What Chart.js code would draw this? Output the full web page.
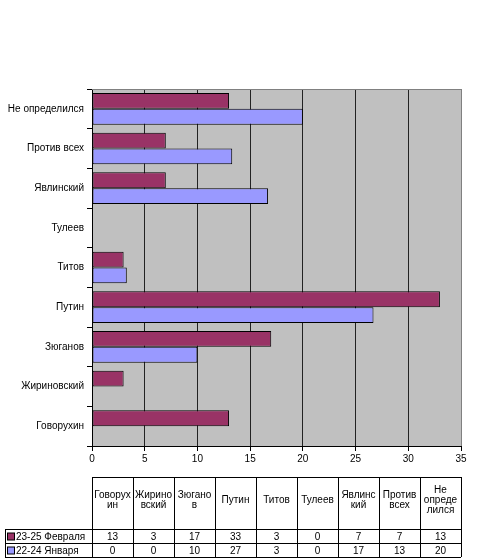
<!DOCTYPE html>
<html>
<head>
<meta charset="utf-8">
<script src="https://cdn.jsdelivr.net/npm/chart.js@4/dist/chart.umd.min.js"></script>
<style>
  body { margin: 0; background: #fff; }
</style>
</head>
<body>
<canvas id="graph" width="500" height="560"></canvas>
<script>
// кандидаты (снизу вверх на графике, слева направо в таблице)
const candidats = ['Говорухин', 'Жириновский', 'Зюганов', 'Путин', 'Титов', 'Тулеев', 'Явлинский', 'Против всех', 'Не определился'];
// заголовки столбцов таблицы, как они перенесены в оригинале
const enTetes = [['Говорух', 'ин'], ['Жирино', 'вский'], ['Зюгано', 'в'], ['Путин'], ['Титов'], ['Тулеев'], ['Явлинс', 'кий'], ['Против', 'всех'], ['Не', 'опреде', 'лился']];

const serieFevrier = [13, 3, 17, 33, 3, 0, 7, 7, 13];
const serieJanvier = [0, 0, 10, 26.7, 3.3, 0, 16.7, 13.3, 20];
const nomsSeries = ['23-25 Февраля', '22-24 Января'];
const couleurs = ['#993366', '#9999FF'];
const ticksX = [0, 5, 10, 15, 20, 25, 30, 35];

Chart.defaults.font.family = 'Arial, "Liberation Sans", sans-serif';
Chart.defaults.font.size = 10;
Chart.defaults.color = '#000';

// fond gris + bord gris en haut / à droite
const fondGris = {
  id: 'fondGris',
  beforeDraw(chart) {
    const a = chart.chartArea, c = chart.ctx;
    c.save();
    c.fillStyle = '#C0C0C0';
    c.fillRect(a.left, a.top, a.right - a.left, a.bottom - a.top);
    c.restore();
  },
  afterDatasetsDraw(chart) {
    const a = chart.chartArea, c = chart.ctx;
    c.save();
    c.strokeStyle = '#808080';
    c.lineWidth = 1;
    c.beginPath();
    c.moveTo(a.left, a.top + 0.5);
    c.lineTo(a.right + 0.5, a.top + 0.5);
    c.lineTo(a.right + 0.5, a.bottom);
    c.stroke();
    c.restore();
  }
};

// table de données sous le graphique
const tableDonnees = {
  id: 'tableDonnees',
  afterDraw(chart) {
    const a = chart.chartArea, c = chart.ctx;
    const n = candidats.length;
    const w = (a.right - a.left) / n;
    const xg = 5;
    const y0 = 477, y1 = 529, y2 = 543, y3 = 557;
    const rows = [serieFevrier, serieJanvier];
    c.save();
    c.strokeStyle = '#000';
    c.lineWidth = 1;
    c.beginPath();
    // lignes horizontales
    c.moveTo(a.left, y0 + 0.5); c.lineTo(a.right, y0 + 0.5);
    [y1, y2, y3].forEach(y => { c.moveTo(xg, y + 0.5); c.lineTo(a.right, y + 0.5); });
    // lignes verticales
    c.moveTo(xg + 0.5, y1); c.lineTo(xg + 0.5, y3);
    for (let i = 0; i <= n; i++) {
      const x = Math.round(a.left + i * w) + 0.5;
      c.moveTo(x, y0); c.lineTo(x, y3);
    }
    c.stroke();

    c.font = '10px Arial, "Liberation Sans", sans-serif';
    c.fillStyle = '#000';
    c.textAlign = 'center';
    c.textBaseline = 'middle';
    enTetes.forEach((lignes, i) => {
      const cx = a.left + i * w + w / 2;
      const h = 10;
      const start = 500 - (lignes.length - 1) * h / 2;
      lignes.forEach((t, j) => c.fillText(t, cx, start + j * h));
    });
    rows.forEach((serie, r) => {
      const cy = (r === 0 ? (y1 + y2) / 2 : (y2 + y3) / 2) + 1;
      serie.forEach((v, i) => {
        c.fillText(String(Math.round(v)), a.left + i * w + w / 2, cy);
      });
      // légende
      c.fillStyle = couleurs[r];
      c.fillRect(7.5, cy - 4, 7, 7);
      c.strokeRect(7.5, cy - 4, 7, 7);
      c.fillStyle = '#000';
      c.textAlign = 'left';
      c.fillText(nomsSeries[r], 16, cy);
      c.textAlign = 'center';
    });
    c.restore();
  }
};

new Chart(document.getElementById('graph').getContext('2d'), {
  type: 'bar',
  data: {
    labels: candidats,
    datasets: [
      {
        label: nomsSeries[0],
        data: serieFevrier,
        backgroundColor: couleurs[0],
        borderColor: '#000',
        borderWidth: 1,
        borderSkipped: false,
        categoryPercentage: 0.8,
        barPercentage: 1
      },
      {
        label: nomsSeries[1],
        data: serieJanvier,
        backgroundColor: couleurs[1],
        borderColor: '#000',
        borderWidth: 1,
        borderSkipped: false,
        categoryPercentage: 0.8,
        barPercentage: 1
      }
    ]
  },
  options: {
    indexAxis: 'y',
    responsive: false,
    animation: false,
    layout: { padding: { top: 89, right: 39, bottom: 90, left: 0 } },
    plugins: {
      legend: { display: false },
      tooltip: { enabled: false }
    },
    scales: {
      x: {
        min: 0,
        max: 35,
        afterBuildTicks: s => { s.ticks = ticksX.map(v => ({ value: v })); },
        afterFit: s => { s.height = 24; },
        ticks: { padding: 2, color: '#000' },
        grid: {
          color: ctx => (ctx.tick && ctx.tick.value === 35) ? '#808080' : '#222',
          lineWidth: 1,
          tickLength: 5,
          tickColor: '#000'
        },
        border: { color: '#000' }
      },
      y: {
        reverse: true,
        afterFit: s => { s.width = 92; },
        ticks: { padding: 3, color: '#000' },
        grid: {
          offset: true,
          drawOnChartArea: false,
          tickLength: 5,
          color: '#000'
        },
        border: { color: '#000' }
      }
    }
  },
  plugins: [fondGris, tableDonnees]
});
</script>
</body>
</html>
